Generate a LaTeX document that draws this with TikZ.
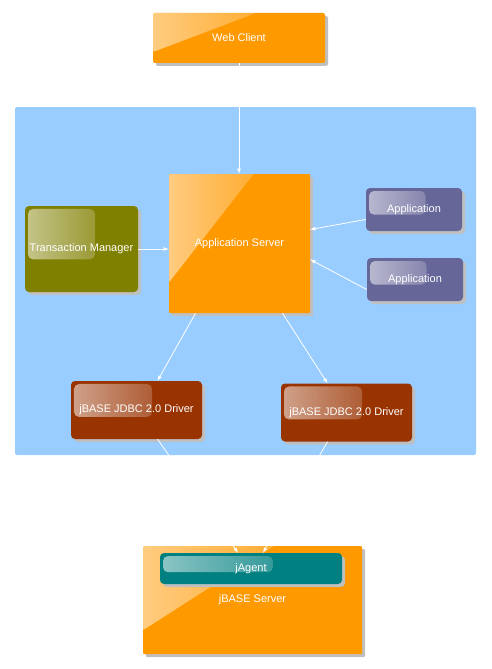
\documentclass[tikz,border=0pt]{standalone}
\usepackage{fontspec}
\setmainfont{Liberation Sans}
\usetikzlibrary{shadows,calc,fadings}
\definecolor{jorange}{HTML}{FF9900}
\definecolor{jpanel}{HTML}{99CCFF}
\definecolor{jolive}{HTML}{808000}
\definecolor{jpurple}{HTML}{666699}
\definecolor{jbrown}{HTML}{993300}
\definecolor{jteal}{HTML}{008080}
\begin{document}
\begin{tikzpicture}[
        x=1pt, y=-1pt,
        box/.style={rectangle, rounded corners=2pt, inner sep=0pt, text=white,
            font=\fontsize{11}{13}\selectfont,
            drop shadow={shadow xshift=3pt, shadow yshift=-3pt, fill=black!25, opacity=1}},
        glossy/.style={path picture={
            \fill[white, fill opacity=0.55, path fading=east, rounded corners=5pt]
                ($(path picture bounding box.north west)+(3,3)$) rectangle
                ($(path picture bounding box.north west)!0.62!(path picture bounding box.south east)$);}},
        sheen/.style={path picture={
            \fill[white, fill opacity=0.5, path fading=east]
                (path picture bounding box.north west) --
                ($(path picture bounding box.north west)!0.6!(path picture bounding box.north east)$) --
                ($(path picture bounding box.north west)!0.78!(path picture bounding box.south west)$) -- cycle;}},
        arrow/.style={->, >=latex, white, line width=0.8pt}
    ]
        \useasboundingbox (0,0) rectangle (491,669);

        % Panel
        \node[rectangle, rounded corners=2pt, fill=jpanel, minimum width=461pt, minimum height=348pt] (panel) at (245.5,281) {};

        \node[box, sheen, fill=jorange, minimum width=172pt, minimum height=50pt] (webclient) at (239,38) {Web Client};
        \node[box, sheen, fill=jorange, rounded corners=1pt, minimum width=141pt, minimum height=139pt] (appserver) at (239.5,243.5) {Application Server};
        \node[box, glossy, fill=jolive, rounded corners=4pt, minimum width=113pt, minimum height=86pt] (txmanager) at (81.5,249) {Transaction Manager};
        \node[box, glossy, fill=jpurple, rounded corners=4pt, minimum width=96pt, minimum height=43pt] (app1) at (414,209.5) {Application};
        \node[box, glossy, fill=jpurple, rounded corners=4pt, minimum width=96pt, minimum height=43pt] (app2) at (415,279.5) {Application};
        \node[box, glossy, fill=jbrown, rounded corners=4pt, minimum width=131pt, minimum height=58pt] (driver1) at (136.5,410) {jBASE JDBC 2.0 Driver};
        \node[box, glossy, fill=jbrown, rounded corners=4pt, minimum width=131pt, minimum height=58pt] (driver2) at (346.5,412.5) {jBASE JDBC 2.0 Driver};

        % Server
        \node[box, sheen, fill=jorange, rounded corners=1pt, minimum width=219pt, minimum height=108pt] (jbase) at (252.5,600) {jBASE Server};
        \node[box, glossy, fill=jteal, rounded corners=4pt, minimum width=182pt, minimum height=31pt] (jagent) at (251,568.5) {jAgent};

        \draw[arrow] (webclient.south) -- (webclient.south |- appserver.north);
        \draw[arrow] (txmanager.east) -- (txmanager.east -| appserver.west);
        \draw[arrow] ([yshift=-10pt]app1.west) -- ([yshift=14pt]appserver.east);
        \draw[arrow] ([yshift=-10pt]app2.west) -- ([yshift=-16pt]appserver.east);
        \draw[arrow] ([xshift=-44pt]appserver.south) -- ([xshift=21pt]driver1.north);
        \draw[arrow] ([xshift=43pt]appserver.south) -- ([xshift=-19pt]driver2.north);
        \draw[arrow] ([xshift=21pt]driver1.south) -- ([xshift=-13pt]jagent.north);
        \draw[arrow] ([xshift=-19pt]driver2.south) -- ([xshift=12pt]jagent.north);
    \end{tikzpicture}
\end{document}
